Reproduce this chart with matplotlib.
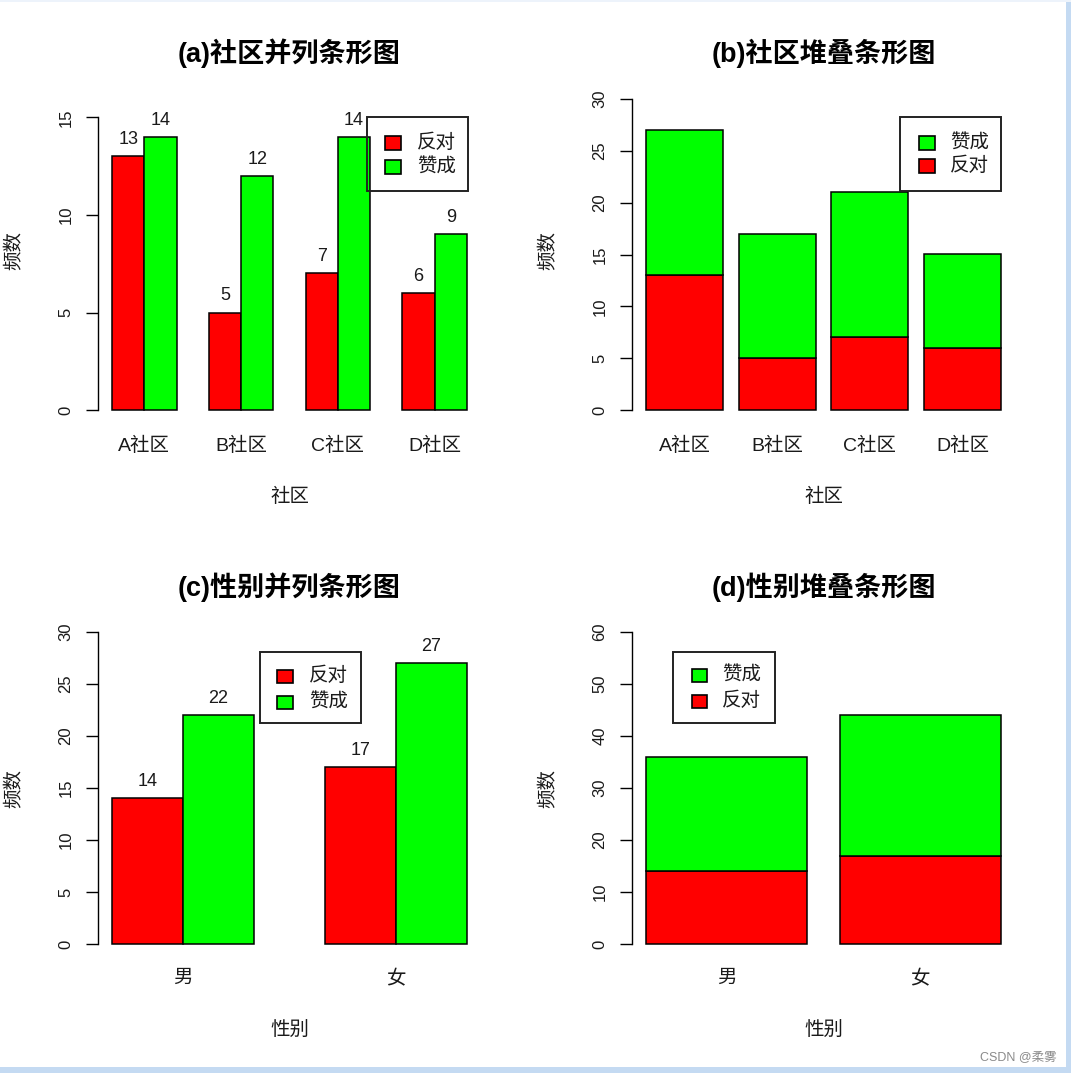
import matplotlib
matplotlib.use('Agg')
import matplotlib.pyplot as plt
from matplotlib.patches import Rectangle

plt.rcParams['font.family'] = ['Liberation Sans', 'Noto Sans CJK SC', 'DejaVu Sans']

W, H = 1071, 1073

# ---------------- data ----------------
communities = ['A社区', 'B社区', 'C社区', 'D社区']
comm_oppose = [13, 5, 7, 6]
comm_support = [14, 12, 14, 9]
genders = ['男', '女']
gender_oppose = [14, 17]
gender_support = [22, 27]
series_names = ['反对', '赞成']
titles = ['(a)社区并列条形图', '(b)社区堆叠条形图', '(c)性别并列条形图', '(d)性别堆叠条形图']
yticks_a = [0, 5, 10, 15]
yticks_b = [0, 5, 10, 15, 20, 25, 30]
yticks_c = [0, 5, 10, 15, 20, 25, 30]
yticks_d = [0, 10, 20, 30, 40, 50, 60]

RED = '#FF0000'
GREEN = '#00FF00'
colors = [RED, GREEN]

fig = plt.figure(figsize=(W / 100, H / 100), dpi=100)
fig.patch.set_facecolor('white')

TICK_FS = 12
CJK_FS = 14
VAL_FS = 13
TXT = '#1a1a1a'


def make_ax(left, right, y0, ytop, xlim, yticks):
    ax = fig.add_axes([left / W, 1 - y0 / H, (right - left) / W, (y0 - ytop) / H])
    ax.set_xlim(*xlim)
    ax.set_ylim(yticks[0], yticks[-1])
    for s in ['top', 'right', 'bottom']:
        ax.spines[s].set_visible(False)
    ax.spines['left'].set_linewidth(1.0)
    ax.spines['left'].set_position(('axes', 0))
    ax.set_yticks(yticks)
    ax.set_yticklabels([str(t) for t in yticks], rotation=90, va='center')
    ax.tick_params(axis='y', length=8.6, width=1.0, pad=9, labelsize=TICK_FS, labelcolor=TXT)
    ax.tick_params(axis='x', length=0, pad=19, labelsize=CJK_FS, labelcolor=TXT)
    ax.patch.set_alpha(0)
    ax._px = (left, right, y0, ytop)
    return ax


def px2ax(ax, x, y):
    left, right, y0, ytop = ax._px
    return (x - left) / (right - left), (y0 - y) / (y0 - ytop)


def decorate(ax, title, xlabel, title_y, xlabel_y, ylabel_x, ylabel_y):
    left, right, y0, ytop = ax._px
    cx = (left + right) / 2
    ax.text(*px2ax(ax, cx, title_y), title, transform=ax.transAxes, ha='center', va='center',
            fontsize=19.5, fontweight='bold', color='black')
    ax.set_xlabel(xlabel, fontsize=CJK_FS, va='center', color=TXT)
    ax.xaxis.set_label_coords(*px2ax(ax, cx, xlabel_y))
    ax.set_ylabel('频数', fontsize=CJK_FS, va='center', color=TXT)
    ax.yaxis.set_label_coords(*px2ax(ax, ylabel_x, ylabel_y))


def legend(box, sq, text_x, rows, labels, cols):
    x0, y0, x1, y1 = box
    fig.add_artist(Rectangle((x0 / W, 1 - y1 / H), (x1 - x0) / W, (y1 - y0) / H,
                             transform=fig.transFigure, fill=False, ec='#222222', lw=1.4))
    sx0, sx1 = sq
    for ry, lab, c in zip(rows, labels, cols):
        fig.add_artist(Rectangle((sx0 / W, 1 - (ry + 6.5) / H), (sx1 - sx0) / W, 13 / H,
                                 transform=fig.transFigure, fc=c, ec='black', lw=1.2))
        fig.text(text_x / W, 1 - ry / H, lab, ha='left', va='center', fontsize=CJK_FS,
                 color=TXT)


def grouped(ax, cats, series, labels_on=True):
    n = len(series)
    centers = []
    for g in range(len(cats)):
        for j, vals in enumerate(series):
            left = 1 + g * (n + 1) + j
            v = vals[g]
            ax.bar(left, v, width=1, align='edge', color=colors[j], edgecolor='black',
                   linewidth=1.1, clip_on=False)
            if labels_on:
                ax.annotate(str(v), (left + 0.5, v), xytext=(0, 12), textcoords='offset points',
                            ha='center', va='center', fontsize=VAL_FS, color=TXT,
                            annotation_clip=False)
        centers.append(1 + g * (n + 1) + n / 2)
    ax.set_xticks(centers)
    ax.set_xticklabels(cats)


def stacked(ax, cats, series):
    centers = []
    for g in range(len(cats)):
        left = 0.2 + g * 1.2
        bottom = 0
        for j, vals in enumerate(series):
            ax.bar(left, vals[g], width=1, bottom=bottom, align='edge', color=colors[j],
                   edgecolor='black', linewidth=1.1, clip_on=False)
            bottom += vals[g]
        centers.append(left + 0.5)
    ax.set_xticks(centers)
    ax.set_xticklabels(cats)


# (a)
ax_a = make_ax(97.8, 481.2, 410, 117.5, (0.56, 12.44), yticks_a)
grouped(ax_a, communities, [comm_oppose, comm_support])
decorate(ax_a, titles[0], '社区', 53, 497, 15, 251)
legend((367, 117, 468, 191), (385, 401), 417, [143, 167], series_names, colors)

# (b)
ax_b = make_ax(631.7, 1015.3, 410, 99, (0.016, 4.984), yticks_b)
stacked(ax_b, communities, [comm_oppose, comm_support])
decorate(ax_b, titles[1], '社区', 53, 497, 549, 251)
legend((900, 117, 1001, 190.5), (919, 935), 950, [143, 166],
       [series_names[1], series_names[0]], [GREEN, RED])

# (c)
ax_c = make_ax(97.8, 481.2, 944, 632, (0.8, 6.2), yticks_c)
grouped(ax_c, genders, [gender_oppose, gender_support])
decorate(ax_c, titles[2], '性别', 587, 1031, 15, 788)
legend((260, 652, 361, 722.5), (277, 293), 309, [676, 702], series_names, colors)

# (d)
ax_d = make_ax(632, 1015, 944, 632, (0.112, 2.488), yticks_d)
stacked(ax_d, genders, [gender_oppose, gender_support])
decorate(ax_d, titles[3], '性别', 587, 1031, 549, 788)
legend((673, 652, 775, 723), (692, 707), 722, [675, 701],
       [series_names[1], series_names[0]], [GREEN, RED])

# window frame & watermark
fig.add_artist(Rectangle((1066 / W, 0), 5 / W, 1, transform=fig.transFigure,
                         fc='#c4daf2', ec='none'))
fig.add_artist(Rectangle((0, 0), 1, 6 / H, transform=fig.transFigure,
                         fc='#c4daf2', ec='none'))
fig.add_artist(Rectangle((0, 1 - 2 / H), 1, 2 / H, transform=fig.transFigure,
                         fc='#edf3fb', ec='none'))
fig.text(1057 / W, 1 - 1057 / H, 'CSDN @柔雾', ha='right', va='center', fontsize=9,
         color='#8a8a8a')

fig.savefig('out.png', dpi=100)
